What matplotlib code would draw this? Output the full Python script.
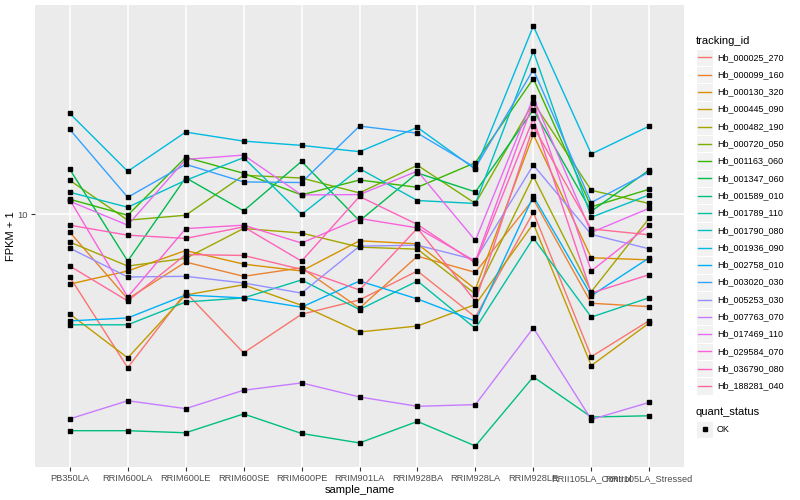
import matplotlib

matplotlib.use("Agg")
import numpy as np  # noqa: E402
import matplotlib.pyplot as plt  # noqa: E402
from matplotlib.patches import Rectangle  # noqa: E402
from matplotlib.lines import Line2D  # noqa: E402
from matplotlib.ticker import NullLocator  # noqa: E402

plt.rcParams["font.family"] = ["Liberation Sans", "DejaVu Sans"]

# ---------------------------------------------------------------------------
# Data (FPKM + 1)
# ---------------------------------------------------------------------------
SAMPLES = ["PB350LA", "RRIM600LA", "RRIM600LE", "RRIM600SE", "RRIM600PE",
           "RRIM901LA", "RRIM928BA", "RRIM928LA", "RRIM928LE",
           "RRII105LA_Control", "RRII105LA_Stressed"]

TRACKING_IDS = ["Hb_000025_270", "Hb_000099_160", "Hb_000130_320",
                "Hb_000445_090", "Hb_000482_190", "Hb_000720_050",
                "Hb_001163_060", "Hb_001347_060", "Hb_001589_010",
                "Hb_001789_110", "Hb_001790_080", "Hb_001936_090",
                "Hb_002758_010", "Hb_003020_030", "Hb_005253_030",
                "Hb_007763_070", "Hb_017469_110", "Hb_029584_070",
                "Hb_036790_080", "Hb_188281_040"]

HB_000025_270 = [6.17, 3.07, 5.48, 3.44, 4.63, 5.17, 6.46, 4.53, 10.15, 3.34, 4.41]
HB_000099_160 = [8.71, 5.21, 6.92, 6.20, 6.62, 4.85, 7.24, 6.39, 11.22, 5.04, 4.91]
HB_000130_320 = [5.84, 6.46, 7.56, 6.81, 6.46, 8.15, 7.96, 5.62, 18.48, 7.15, 7.04]
HB_000445_090 = [4.64, 3.31, 5.37, 5.81, 4.96, 4.04, 4.23, 4.99, 9.30, 3.12, 4.33]
HB_000482_190 = [8.07, 6.71, 7.12, 8.96, 8.65, 7.76, 7.64, 5.41, 13.39, 5.51, 9.70]
HB_000720_050 = [12.98, 9.55, 9.92, 13.49, 13.21, 11.78, 14.57, 10.86, 23.62, 12.02, 10.86]
HB_001163_060 = [11.22, 9.92, 15.49, 13.70, 11.60, 13.01, 12.30, 14.87, 28.40, 10.58, 12.12]
HB_001347_060 = [14.13, 6.97, 13.24, 10.26, 15.02, 9.50, 13.73, 11.87, 22.34, 10.23, 14.05]
HB_001589_010 = [1.89, 1.89, 1.86, 2.15, 1.85, 1.72, 2.03, 1.68, 2.86, 2.10, 2.12]
HB_001789_110 = [4.27, 4.27, 5.09, 5.25, 6.03, 4.80, 5.98, 4.15, 8.32, 4.53, 5.26]
HB_001790_080 = [11.84, 10.55, 12.98, 15.45, 9.98, 14.20, 11.11, 10.86, 35.03, 9.77, 11.60]
HB_001936_090 = [21.71, 13.91, 18.81, 17.55, 16.98, 16.18, 19.50, 14.13, 42.56, 15.89, 19.70]
HB_002758_010 = [4.40, 4.50, 5.37, 5.25, 4.89, 5.98, 5.21, 4.39, 11.48, 5.34, 7.15]
HB_003020_030 = [19.20, 11.39, 14.68, 12.82, 12.76, 19.70, 18.66, 14.31, 30.43, 10.94, 13.84]
HB_005253_030 = [7.70, 6.17, 6.20, 5.89, 5.45, 7.82, 7.88, 7.04, 14.60, 8.56, 7.66]
HB_007763_070 = [2.07, 2.38, 2.24, 2.58, 2.73, 2.45, 2.28, 2.31, 4.17, 2.06, 2.35]
HB_017469_110 = [11.05, 9.19, 15.25, 15.76, 11.60, 11.63, 13.94, 8.17, 24.55, 8.69, 10.47]
HB_029584_070 = [11.18, 5.29, 8.95, 9.19, 8.01, 9.68, 9.00, 6.96, 23.67, 6.46, 9.19]
HB_036790_080 = [9.19, 8.51, 8.30, 9.07, 6.97, 11.46, 9.24, 6.87, 20.89, 5.45, 6.28]
HB_188281_040 = [6.71, 5.13, 7.33, 7.28, 6.54, 5.58, 8.98, 5.12, 19.65, 8.93, 8.53]

SERIES = [HB_000025_270, HB_000099_160, HB_000130_320, HB_000445_090,
          HB_000482_190, HB_000720_050, HB_001163_060, HB_001347_060,
          HB_001589_010, HB_001789_110, HB_001790_080, HB_001936_090,
          HB_002758_010, HB_003020_030, HB_005253_030, HB_007763_070,
          HB_017469_110, HB_029584_070, HB_036790_080, HB_188281_040]

QUANT_STATUS = ["OK"]

# ggplot2 default hue palette, 20 levels
COLORS = ["#F8766D", "#EA8331", "#D89000", "#C09B00", "#A3A500",
          "#7CAE00", "#39B600", "#00BB4E", "#00BF7D", "#00C1A3",
          "#00BFC4", "#00BAE0", "#00B0F6", "#35A2FF", "#9590FF",
          "#C77CFF", "#E76BF3", "#FA62DB", "#FF62BC", "#FF6A98"]

W, H = 800, 500
PANEL = (35, 5, 684, 467)  # left, top, right, bottom in pixels

fig = plt.figure(figsize=(W / 100, H / 100), dpi=100)
fig.patch.set_facecolor("white")
l, t, r, b = PANEL
ax = fig.add_axes([l / W, 1 - b / H, (r - l) / W, (b - t) / H])
ax.set_facecolor("#EBEBEB")

x = np.arange(len(SAMPLES))
for vals, col in zip(SERIES, COLORS):
    ax.plot(x, vals, color=col, lw=1.0, zorder=3)
for vals in SERIES:
    ax.plot(x, vals, ls="none", marker="s", ms=2.4, color="black", zorder=4)

ax.set_yscale("log")
allv = np.log10(np.concatenate([np.asarray(s) for s in SERIES]))
span = allv.max() - allv.min()
ax.set_ylim(10 ** (allv.min() - 0.05 * span), 10 ** (allv.max() + 0.05 * span))
ax.set_xlim(-0.6, len(SAMPLES) - 1 + 0.6)

ax.set_yticks([10])
ax.set_yticklabels(["10"])
ax.yaxis.set_minor_locator(NullLocator())
ax.set_xticks(x)
ax.set_xticklabels(SAMPLES)
ax.grid(True, which="major", color="white", lw=1.1, zorder=0)
ax.set_axisbelow(True)
for s in ax.spines.values():
    s.set_visible(False)
ax.tick_params(length=3, width=0.8, color="#333333", labelcolor="#4D4D4D",
               labelsize=6.7, pad=2)
ax.set_xlabel("sample_name", fontsize=8, labelpad=1.5)
ax.set_ylabel("FPKM + 1", fontsize=8, labelpad=1)

# ---------------------------------------------------------------------------
# Legend drawn in pixel coordinates
# ---------------------------------------------------------------------------
lg = fig.add_axes([0, 0, 1, 1], zorder=5)
lg.set_xlim(0, W)
lg.set_ylim(H, 0)
lg.axis("off")
lg.patch.set_alpha(0)

KX, KW, KH = 696, 17.3, 17.3
y0 = 40.5
lg.text(KX, y0, "tracking_id", fontsize=8, va="center", ha="left")
for i, (name, col) in enumerate(zip(TRACKING_IDS, COLORS)):
    yc = 57.3 + i * KH
    lg.add_patch(Rectangle((KX, yc - KH / 2), KW, KH, facecolor="#F2F2F2",
                           edgecolor="white", lw=0.8))
    lg.add_line(Line2D([KX + 2, KX + KW - 2], [yc, yc], color=col, lw=1.0))
    lg.text(KX + KW + 3.5, yc, name, fontsize=6.5, va="center", ha="left")

yq = 412.0
lg.text(KX, yq, "quant_status", fontsize=8, va="center", ha="left")
for i, status in enumerate(QUANT_STATUS):
    yc = 429.3 + i * KH
    lg.add_patch(Rectangle((KX, yc - KH / 2), KW, KH, facecolor="#F2F2F2",
                           edgecolor="white", lw=0.8))
    lg.add_line(Line2D([KX + KW / 2], [yc], ls="none", marker="s", ms=2.4,
                       color="black"))
    lg.text(KX + KW + 3.5, yc, status, fontsize=6.5, va="center", ha="left")

fig.savefig("out.png", dpi=100)
